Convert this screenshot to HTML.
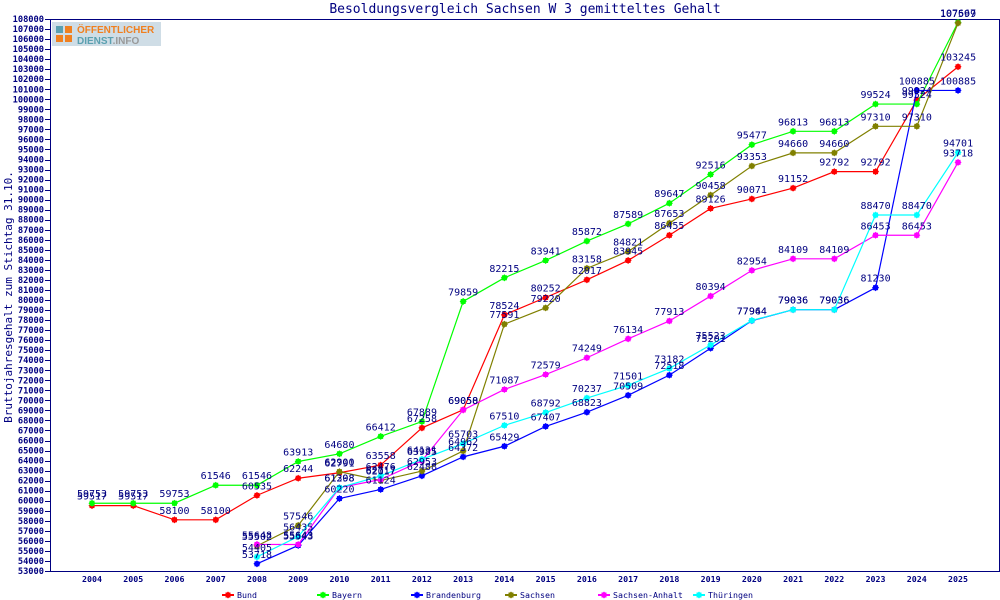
<!DOCTYPE html>
<html><head><meta charset="utf-8"><style>
body{margin:0;background:#fff;}
svg{display:block;font-family:"DejaVu Sans Mono","Liberation Mono",monospace;}
.v text{font-size:10px;fill:#000080;text-anchor:middle;}
</style></head><body>
<svg id="c" width="1000" height="600" viewBox="0 0 1000 600" xmlns="http://www.w3.org/2000/svg">
<rect width="1000" height="600" fill="#fff"/>
<text x="525" y="13" font-size="13" fill="#000080" text-anchor="middle">Besoldungsvergleich Sachsen W 3 gemitteltes Gehalt</text>
<text transform="translate(12,297) rotate(-90)" font-size="11" fill="#000080" text-anchor="middle">Bruttojahresgehalt zum Stichtag 31.10.</text>
<g id="axes" stroke="#000080" fill="none"><path d="M50.5 19.5H999.5V571.5H50.5Z"/></g>
<g id="lines"></g>
<rect x="52" y="22" width="109" height="24" fill="#cfdde6"/>
<rect x="56" y="26" width="7" height="7" fill="#5aa0b0"/><rect x="65" y="26" width="7" height="7" fill="#f08020"/>
<rect x="56" y="35" width="7" height="7" fill="#f08020"/><rect x="65" y="35" width="7" height="7" fill="#f08020"/>
<text x="77" y="33" font-size="10" font-weight="bold" fill="#f08020" font-family="Liberation Sans,sans-serif">ÖFFENTLICHER</text>
<text x="77" y="44" font-size="10" font-weight="bold" fill="#5aa0b0" font-family="Liberation Sans,sans-serif">DIENST<tspan fill="#999">.INFO</tspan></text>
<g class="v" id="s0" fill="#ff0000"><text>59517</text><text>59517</text><text>58100</text><text>58100</text><text>60535</text><text>62244</text><text>62791</text><text>63558</text><text>67258</text><text>69058</text><text>78524</text><text>80252</text><text>82017</text><text>83945</text><text>86455</text><text>89126</text><text>90071</text><text>91152</text><text>92792</text><text>92792</text><text>99924</text><text>103245</text></g>
<g class="v" id="s1" fill="#00ff00"><text>59753</text><text>59753</text><text>59753</text><text>61546</text><text>61546</text><text>63913</text><text>64680</text><text>66412</text><text>67889</text><text>79859</text><text>82215</text><text>83941</text><text>85872</text><text>87589</text><text>89647</text><text>92516</text><text>95477</text><text>96813</text><text>96813</text><text>99524</text><text>99524</text><text>107667</text></g>
<g class="v" id="s2" fill="#0000ff"><text>53718</text><text>55543</text><text>60220</text><text>61124</text><text>62488</text><text>64372</text><text>65429</text><text>67407</text><text>68823</text><text>70509</text><text>72518</text><text>75201</text><text>77944</text><text>79036</text><text>79036</text><text>81230</text><text>100885</text><text>100885</text></g>
<g class="v" id="s3" fill="#808000"><text>55502</text><text>57546</text><text>62900</text><text>62017</text><text>62953</text><text>64962</text><text>77591</text><text>79220</text><text>83158</text><text>84821</text><text>87653</text><text>90458</text><text>93353</text><text>94660</text><text>94660</text><text>97310</text><text>97310</text><text>107599</text></g>
<g class="v" id="s4" fill="#ff00ff"><text>55648</text><text>55643</text><text>61298</text><text>62117</text><text>63985</text><text>69050</text><text>71087</text><text>72579</text><text>74249</text><text>76134</text><text>77913</text><text>80394</text><text>82954</text><text>84109</text><text>84109</text><text>86453</text><text>86453</text><text>93718</text></g>
<g class="v" id="s5" fill="#00ffff"><text>54405</text><text>56435</text><text>61308</text><text>62476</text><text>64131</text><text>65703</text><text>67510</text><text>68792</text><text>70237</text><text>71501</text><text>73182</text><text>75523</text><text>77964</text><text>79036</text><text>79036</text><text>88470</text><text>88470</text><text>94701</text></g>
<g id="leg" font-size="8.3" fill="#000080"><text x="237" y="598">Bund</text><text x="332" y="598">Bayern</text><text x="426" y="598">Brandenburg</text><text x="520" y="598">Sachsen</text><text x="613" y="598">Sachsen-Anhalt</text><text x="708" y="598">Thüringen</text></g>
<g id="yl" font-size="8.7" font-weight="bold" fill="#000080" text-anchor="end">
<text y="108000">108000</text><text y="107000">107000</text><text y="106000">106000</text><text y="105000">105000</text><text y="104000">104000</text><text y="103000">103000</text><text y="102000">102000</text><text y="101000">101000</text><text y="100000">100000</text><text y="99000">99000</text><text y="98000">98000</text><text y="97000">97000</text><text y="96000">96000</text><text y="95000">95000</text><text y="94000">94000</text><text y="93000">93000</text><text y="92000">92000</text><text y="91000">91000</text><text y="90000">90000</text><text y="89000">89000</text><text y="88000">88000</text><text y="87000">87000</text><text y="86000">86000</text><text y="85000">85000</text><text y="84000">84000</text><text y="83000">83000</text><text y="82000">82000</text><text y="81000">81000</text><text y="80000">80000</text><text y="79000">79000</text><text y="78000">78000</text><text y="77000">77000</text><text y="76000">76000</text><text y="75000">75000</text><text y="74000">74000</text><text y="73000">73000</text><text y="72000">72000</text><text y="71000">71000</text><text y="70000">70000</text><text y="69000">69000</text><text y="68000">68000</text><text y="67000">67000</text><text y="66000">66000</text><text y="65000">65000</text><text y="64000">64000</text><text y="63000">63000</text><text y="62000">62000</text><text y="61000">61000</text><text y="60000">60000</text><text y="59000">59000</text><text y="58000">58000</text><text y="57000">57000</text><text y="56000">56000</text><text y="55000">55000</text><text y="54000">54000</text><text y="53000">53000</text></g>
<g id="xl" font-size="8.3" font-weight="bold" fill="#000080" text-anchor="middle">
<text>2004</text><text>2005</text><text>2006</text><text>2007</text><text>2008</text><text>2009</text><text>2010</text><text>2011</text><text>2012</text><text>2013</text><text>2014</text><text>2015</text><text>2016</text><text>2017</text><text>2018</text><text>2019</text><text>2020</text><text>2021</text><text>2022</text><text>2023</text><text>2024</text><text>2025</text></g>
</svg>
<script>
var NS="http://www.w3.org/2000/svg";
function X(i){return 92+i*41.24;}
function Y(v){return 571-(v-53000)*0.010036;}
function el(t,a,p){var e=document.createElementNS(NS,t);for(var k in a)e.setAttribute(k,a[k]);p.appendChild(e);return e;}
var axes=document.getElementById('axes');
document.querySelectorAll('#yl text').forEach(function(t){var v=+t.getAttribute('y');var y=Y(v);t.setAttribute('x',44);t.setAttribute('y',y+3);el('path',{d:'M45 '+(Math.round(y)+.5)+'H50'},axes);});
document.querySelectorAll('#xl text').forEach(function(t,i){t.setAttribute('x',X(i));t.setAttribute('y',582);});
var cols=['#ff0000','#00ff00','#0000ff','#808000','#ff00ff','#00ffff'];
var lines=document.getElementById('lines');
function mark(x,y,c,p){el('rect',{x:x-2.5,y:y-2.5,width:5,height:5,fill:c},p);el('rect',{x:x-2.5,y:y-2.5,width:5,height:5,fill:c,transform:'rotate(45 '+x+' '+y+')'},p);}
for(var s=0;s<6;s++){var g=document.getElementById('s'+s);var ts=g.querySelectorAll('text');var off=22-ts.length;var pts=[];
 ts.forEach(function(t,i){var x=X(i+off),y=Y(+t.textContent);pts.push(x+','+y);t.setAttribute('x',x);t.setAttribute('y',y-6);});
 el('polyline',{points:pts.join(' '),fill:'none',stroke:cols[s],'stroke-width':1.2},lines);
 pts.forEach(function(p){var a=p.split(',');mark(+a[0],+a[1],cols[s],lines);});
 var lx=[222,317,411,505,598,693][s];el('line',{x1:lx,y1:595,x2:lx+12,y2:595,stroke:cols[s],'stroke-width':2},lines);mark(lx+6,595,cols[s],lines);}
</script>
</body></html>
